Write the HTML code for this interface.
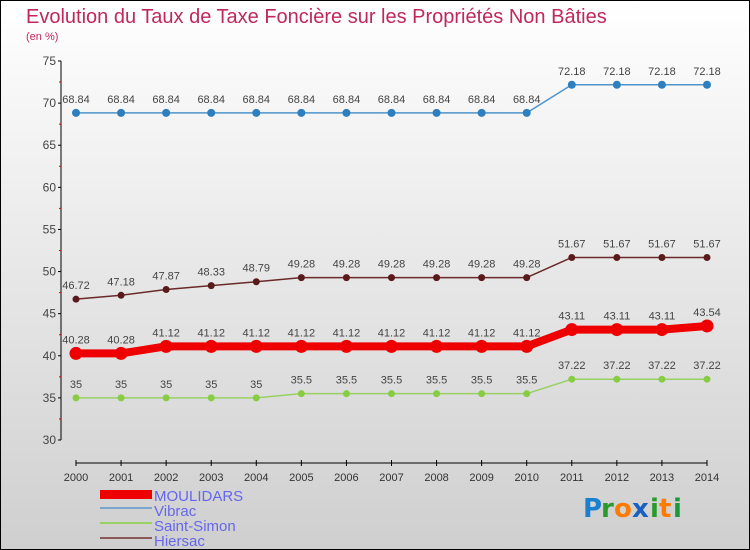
<!DOCTYPE html>
<html><head><meta charset="utf-8"><style>
body{margin:0}
#c{position:relative;width:748px;height:548px;border:1px solid #000;background:linear-gradient(#ffffff,#cfcfcf);overflow:hidden;font-family:"Liberation Sans",sans-serif}
</style></head><body>
<div id="c">
<svg id="s" width="748" height="548" style="position:absolute;left:0;top:0">
<text x="25" y="22" font-size="20" fill="#c0285a">Evolution du Taux de Taxe Foncière sur les Propriétés Non Bâties</text>
<text x="25" y="39" font-size="11" fill="#c0285a">(en %)</text>
<g id="axes"></g><g id="series"></g>
<g>
<rect x="99" y="489" width="52" height="9" fill="#e00"/>
<text x="153" y="500" font-size="15" fill="#6666ee">MOULIDARS</text>
<rect x="99" y="506" width="52" height="2" fill="#7aa6cc"/>
<text x="153" y="515" font-size="15" fill="#6666ee">Vibrac</text>
<rect x="99" y="521" width="52" height="2" fill="#99d066"/>
<text x="153" y="530" font-size="15" fill="#6666ee">Saint-Simon</text>
<rect x="99" y="536" width="52" height="2" fill="#8a5a5a"/>
<text x="153" y="545" font-size="15" fill="#6666ee">Hiersac</text>
</g>
<g font-size="26" font-family="'DejaVu Sans',sans-serif" font-weight="bold">
<text x="582" y="516" fill="#1a80d0">P</text><text x="600" y="516" fill="#2a9a2a">r</text><text x="613" y="516" fill="#ff7a00">o</text><text x="631" y="516" fill="#1a60c0">x</text><text x="649" y="516" fill="#2a9a2a">i</text><text x="658" y="516" fill="#ff7a00">t</text><text x="672" y="516" fill="#1a9a3a">i</text>
</g>
</svg>
</div>
<script>
const years=[2000,2001,2002,2003,2004,2005,2006,2007,2008,2009,2010,2011,2012,2013,2014];
const yTicks=[30,35,40,45,50,55,60,65,70,75];
const moulidars=[40.28,40.28,41.12,41.12,41.12,41.12,41.12,41.12,41.12,41.12,41.12,43.11,43.11,43.11,43.54];
const vibrac=[68.84,68.84,68.84,68.84,68.84,68.84,68.84,68.84,68.84,68.84,68.84,72.18,72.18,72.18,72.18];
const saintSimon=[35,35,35,35,35,35.5,35.5,35.5,35.5,35.5,35.5,37.22,37.22,37.22,37.22];
const hiersac=[46.72,47.18,47.87,48.33,48.79,49.28,49.28,49.28,49.28,49.28,49.28,51.67,51.67,51.67,51.67];
const NS="http://www.w3.org/2000/svg";
function xs(i){return 75+i*(706-75)/(years.length-1);}
function ys(v){return 439-(v-30)*(439-60)/45;}
function mk(t,a,p){const e=document.createElementNS(NS,t);for(const k in a)e.setAttribute(k,a[k]);p.appendChild(e);return e;}
const ax=document.getElementById('axes');
const yl=mk('line',{x1:60,y1:60,x2:60,y2:439,stroke:'#000'},ax);


yTicks.forEach(v=>{
 mk('line',{x1:57,y1:ys(v),x2:60,y2:ys(v),stroke:'#000'},ax);
 if(v<75)mk('line',{x1:58,y1:ys(v+2.5),x2:60,y2:ys(v+2.5),stroke:'#d00'},ax);
 const t=mk('text',{x:55,y:ys(v)+4,'font-size':12,fill:'#444','text-anchor':'end'},ax);t.textContent=v;
 
 
});
const xl=mk('line',{x1:75,y1:462,x2:706,y2:462,stroke:'#000'},ax);


years.forEach((y,i)=>{
 mk('line',{x1:xs(i),y1:459,x2:xs(i),y2:465,stroke:'#000'},ax);
 const t=mk('text',{x:xs(i),y:480,'font-size':11,fill:'#333','text-anchor':'middle'},ax);t.textContent=y;
 
 
});
const sg=document.getElementById('series');
function series(name,data,color,w,r,dot){
 const g=mk('g',{},sg);
 
 
 mk('polyline',{points:data.map((v,i)=>xs(i)+','+ys(v)).join(' '),fill:'none',stroke:color,'stroke-width':w,'stroke-linejoin':'round'},g);
 data.forEach((v,i)=>{
  const c=mk('circle',{cx:xs(i),cy:ys(v),r:r,fill:dot},g);
  
  
  const t=mk('text',{x:xs(i),y:ys(v)-10,'font-size':11,fill:'#444','text-anchor':'middle'},g);t.textContent=v;
  
  
 });
}
series('vibrac',vibrac,'#4e94cc',1.5,4,'#2e7fc0');
series('hiersac',hiersac,'#6a2a2a',1.5,3.5,'#5a1a1a');
series('saint-simon',saintSimon,'#99d066',1.5,3.5,'#88cc44');
series('moulidars',moulidars,'#ee0000',8,6.5,'#ee0000');
</script>
</body></html>
